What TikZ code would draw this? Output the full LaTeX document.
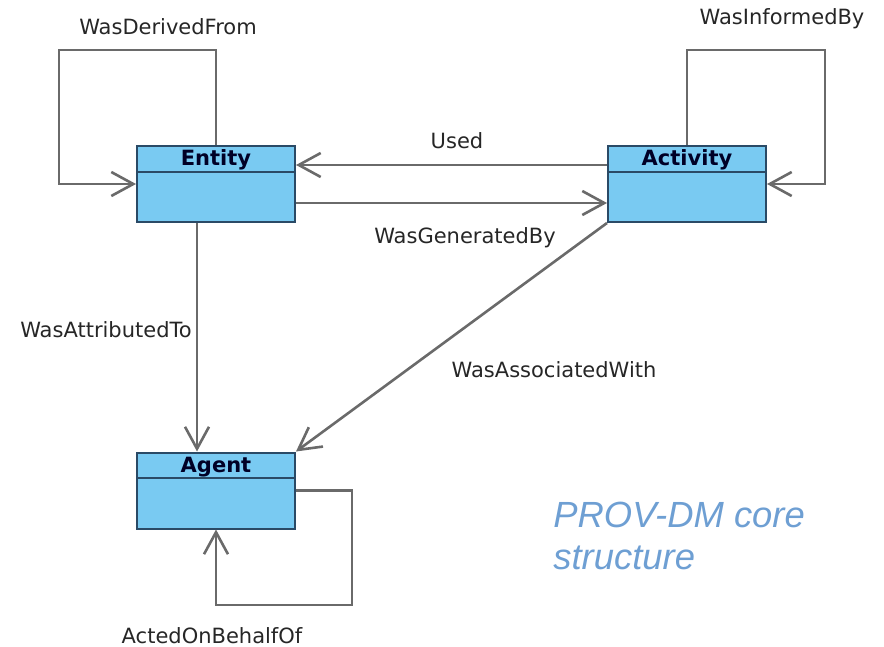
\documentclass[tikz,border=0pt]{standalone}
\usepackage{fontspec}
\setmainfont{DejaVu Sans}
\newfontfamily\notefont{Liberation Sans}
\usetikzlibrary{arrows.meta,calc}

\definecolor{boxfill}{HTML}{79CAF2}
\definecolor{boxedge}{HTML}{2A4A66}
\definecolor{linkgray}{HTML}{6A6A6A}
\definecolor{notecolor}{HTML}{6E9FD3}

\begin{document}
\begin{tikzpicture}[x=0.5pt, y=-0.5pt,
        font=\fontsize{10.5}{12}\selectfont,
        classbox/.style={draw=boxedge, line width=1pt, fill=boxfill, minimum width=79pt, minimum height=38pt, inner sep=0pt},
        classtitle/.style={anchor=north, inner sep=0pt, text height=7.6pt, text depth=0pt, minimum height=13pt, font=\fontsize{10.5}{12}\selectfont\bfseries, text=black!85!blue},
        link/.style={draw=linkgray, line width=1.3pt, -{Straight Barb[length=11pt, width=12pt, line width=1.3pt]}},
        linklabel/.style={inner sep=1pt, text=black!85}]

        \useasboundingbox (0,0) rectangle (884,647);

        % --- classes ---
        \node[classbox] (entity) at (216,184) {};
        \node[classbox] (activity) at (687,184) {};
        \node[classbox] (agent) at (216,490.5) {};

        \foreach \c/\t in {entity/Entity, activity/Activity, agent/Agent} {%
            \node[classtitle] (\c head) at (\c.north) {\t};%
            \draw[boxedge, line width=1pt] (\c head.south -| \c.west) -- (\c head.south -| \c.east);%
        }

        % corners of the self loops
        \coordinate (derivedcorner) at (59,50);
        \coordinate (informedcorner) at (825,50);
        \coordinate (behalfcorner) at (352,605);

        % --- links ---
        \draw[link] (entity.north) |- (derivedcorner) |- (entity.west);
        \draw[link] (activity.north) |- (informedcorner) |- (activity.east);
        \draw[link] ([yshift=9.5pt]activity.west) -- ([yshift=9.5pt]entity.east);
        \draw[link] ([yshift=-9.5pt]entity.east) -- ([yshift=-9.5pt]activity.west);
        \draw[link] ([xshift=-9.5pt]entity.south) -- ([xshift=-9.5pt]agent.north);
        \draw[link] (activity.south west) -- (agent.north east);
        \draw[link] (agent.east) -| (behalfcorner) -| (agent.south);

        % --- labels ---
        \node[linklabel] (derivedlabel) at (168,27) {WasDerivedFrom};
        \node[linklabel] (informedlabel) at (782,19) {WasInformedBy};
        \node[linklabel] (usedlabel) at (457,141) {Used};
        \node[linklabel] (generatedlabel) at (465,238) {WasGeneratedBy};
        \node[linklabel] (attributedlabel) at (106,330) {WasAttributedTo};
        \node[linklabel] (associatedlabel) at (554,370) {WasAssociatedWith};
        \node[linklabel] (behalflabel) at (212,636) {ActedOnBehalfOf};

        \node[anchor=north west, align=left, inner sep=0pt, text=notecolor,
              font=\notefont\itshape\fontsize{18.2}{21}\selectfont] (note) at (553,502) {PROV-DM core\\structure};

\end{tikzpicture}
\end{document}
